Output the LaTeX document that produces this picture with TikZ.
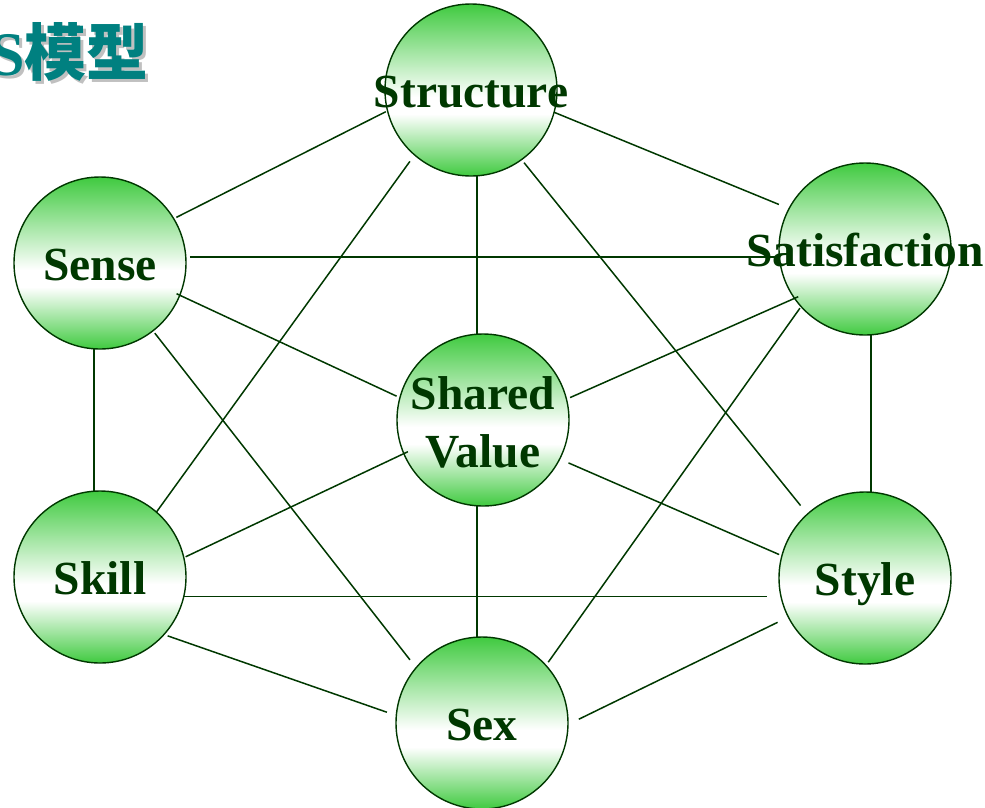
\documentclass[tikz,border=0pt]{standalone}
\usepackage{fontspec}
\setmainfont{Liberation Serif}
\newfontfamily\cjk{Noto Sans CJK SC}
\definecolor{gball}{RGB}{64,202,64}
\definecolor{dkgreen}{RGB}{0,56,0}
\definecolor{ttl}{RGB}{0,128,128}
\definecolor{shd}{RGB}{192,192,192}
\pgfdeclareverticalshading{ballshade}{100bp}{color(0bp)=(gball); color(25bp)=(gball); color(43bp)=(white); color(48bp)=(white); color(75bp)=(gball); color(100bp)=(gball)}
\tikzset{
  ball/.style={circle, draw=dkgreen, line width=1.4pt, minimum size=172pt, inner sep=0pt, outer sep=0pt,
    shading=ballshade},
  balltext/.style={text=dkgreen, font=\fontsize{47.5}{58}\selectfont\bfseries, align=center,
    text height=44pt, text depth=10pt, inner sep=0pt},
  link/.style={draw=dkgreen, line width=1.5pt},
  ttlfont/.style={font=\fontsize{62}{70}\selectfont\bfseries, inner sep=0pt, anchor=base west}
}
\begin{document}
\begin{tikzpicture}[x=1pt,y=-1pt]
\useasboundingbox (0,0) rectangle (985,807);
\clip (0,0) rectangle (985,807);
% title with shadow
\node[ttlfont] (title) at (-10,75) {\rlap{\hspace{3pt}\raisebox{-3pt}{\color{shd}S{\cjk 模型}}}\color{ttl}S{\cjk 模型}};
% circles
\node[ball] (St) at (471,90) {};
\node[ball] (Se) at (100,263) {};
\node[ball] (Sa) at (865,249) {};
\node[ball] (Sh) at (483,420) {};
\node[ball] (Sk) at (100,577) {};
\node[ball] (Sy) at (865,578) {};
\node[ball] (Sx) at (482,723) {};
% labels
\node[balltext] (StT) at (St) {Structure};
\node[balltext] (SeT) at (Se) {Sense};
\node[balltext] (SaT) at (Sa) {Satisfaction};
\node[balltext, text height=104pt] (ShT) at (Sh) {Shared\\Value};
\node[balltext] (SkT) at (Sk) {Skill};
\node[balltext] (SyT) at (Sy) {Style};
\node[balltext] (SxT) at (Sx) {Sex};
% connectors
\draw[link, shorten <=2pt, shorten >=3pt] (St.194.5) -- (Se.31.7);
\draw[link, shorten >=11pt] (St.-15) -- (Sa.152.4);
\draw[link] (St.-86) -- (St.-86 |- Sh.94);
\draw[link, shorten <=8pt] (St.229.7) -- (Sk.49.8);
\draw[link, shorten <=4pt, shorten >=11pt] (St.-54) -- (Sy.132);
\draw[link, shorten <=4pt, shorten >=4pt] (Se.4.7) -- (Se.4.7 -| Sa.184.7);
\draw[link, shorten <=-3.5pt, shorten >=3.7pt] (Se.-22.8) -- (Sh.165.8);
\draw[link] (Se.266.6) -- (Se.266.6 |- Sk.93.4);
\draw[link, shorten <=3pt, shorten >=10pt] (Se.-52.7) -- (Sx.140.5);
\draw[link, shorten <=-4pt, shorten >=4pt] (Sa.215) -- (Sh.14.2);
\draw[link, shorten <=2pt, shorten >=4pt] (Sa.222.7) -- (Sx.42.7);
\draw[link] (Sa.-86.6) -- (Sa.-86.6 |- Sy.86.6);
\draw[link, shorten <=-4.5pt, shorten >=2pt] (Sh.203) -- (Sk.13.1);
\draw[link, shorten <=9.7pt, shorten >=3pt] (Sh.-27.4) -- (Sy.165);
\draw[link] (Sh.266) -- (Sh.266 |- Sx.93.4);
\draw[link, shorten >=14pt] (Sk.-13.1) -- (Sk.-13.1 -| Sy.193);
\draw[link, shorten <=4pt, shorten >=10pt] (Sk.-42.7) -- (Sx.175.8);
\draw[link, shorten <=12pt, shorten >=12pt] (Sy.207) -- (Sx.-1.8);
\end{tikzpicture}
\end{document}
